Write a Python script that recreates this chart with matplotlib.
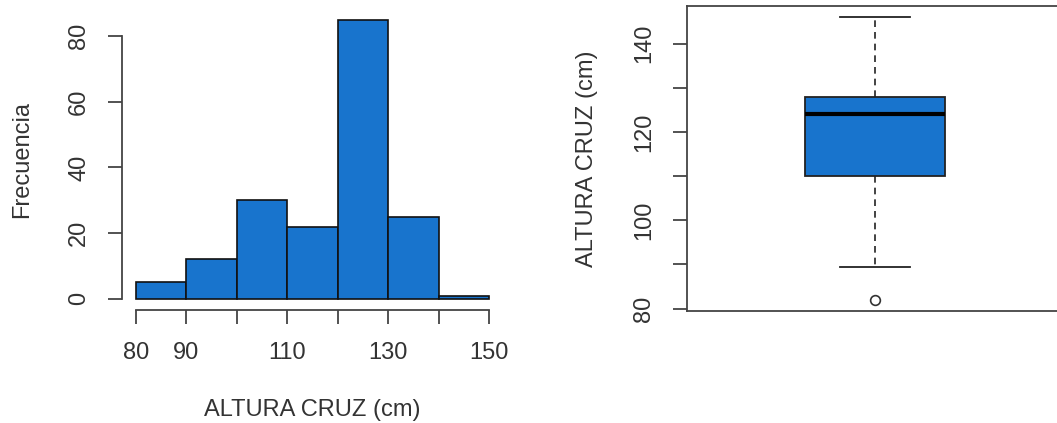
import numpy as np
import matplotlib
matplotlib.use("Agg")
import matplotlib.pyplot as plt

plt.rcParams['font.family'] = ['Liberation Sans', 'DejaVu Sans']

# histogram data
bin_edges = [80, 90, 100, 110, 120, 130, 140, 150]
counts = [5, 12, 30, 22, 85, 25, 1]
x_ticks = [80, 90, 100, 110, 120, 130, 140, 150]
x_labels = ['80', '90', '', '110', '', '130', '', '150']
y_ticks_hist = [0, 20, 40, 60, 80]

# boxplot summary
q1, med, q3 = 110, 124, 128
whislo, whishi = 89.5, 146
outliers = [82]
y_ticks_box = [80, 90, 100, 110, 120, 130, 140]
y_labels_box = ['80', '', '100', '', '120', '', '140']

blue = '#1874CD'
axcol = '#444444'
txtcol = '#333333'
fs = 17

fig = plt.figure(figsize=(10.57, 4.23), dpi=100)

# ---- histogram ----
ax1 = fig.add_axes([0.1154, 0.2671, 0.3605, 0.713])
left = np.array(bin_edges[:-1])
widths = np.diff(bin_edges)
ax1.bar(left, counts, width=widths, align='edge', color=blue,
        edgecolor='#111111', linewidth=1.2)
ax1.set_xlim(77.2, 152.8)
ax1.set_ylim(-3.4, 88.4)
for s in ['top', 'right']:
    ax1.spines[s].set_visible(False)
ax1.spines['left'].set_bounds(0, 80)
ax1.spines['bottom'].set_bounds(80, 150)
for s in ['left', 'bottom']:
    ax1.spines[s].set_color(axcol)
    ax1.spines[s].set_linewidth(1.3)
ax1.set_xticks(x_ticks)
ax1.set_xticklabels(x_labels)
ax1.set_yticks(y_ticks_hist)
ax1.tick_params(axis='both', length=10, width=1.3, color=axcol,
                labelcolor=txtcol, labelsize=fs)
ax1.tick_params(axis='x', pad=13)
ax1.tick_params(axis='y', pad=13)
for lab in ax1.get_yticklabels():
    lab.set_rotation(90)
    lab.set_va('center')
ax1.set_xlabel('ALTURA CRUZ (cm)', fontsize=fs, color=txtcol, va='center')
ax1.set_ylabel('Frecuencia', fontsize=fs, color=txtcol, va='center')
ax1.xaxis.set_label_coords(0.5, -0.332)
ax1.yaxis.set_label_coords(-0.262, 0.5)

# ---- boxplot ----
ax2 = fig.add_axes([0.650, 0.2648, 0.3557, 0.721])
stats = [dict(med=med, q1=q1, q3=q3, whislo=whislo, whishi=whishi,
              fliers=outliers)]
ax2.bxp(stats, positions=[1], widths=0.37, patch_artist=True,
        boxprops=dict(facecolor=blue, edgecolor='#222222', linewidth=1.3),
        medianprops=dict(color='black', linewidth=3),
        whiskerprops=dict(color='#222222', linestyle=(0, (4, 3)), linewidth=1.2),
        capprops=dict(color='#222222', linewidth=1.3),
        capwidths=0.185,
        flierprops=dict(marker='o', markerfacecolor='none',
                        markeredgecolor='#333333', markersize=7,
                        markeredgewidth=1.2))
ax2.set_xlim(0.5, 1.5)
ax2.set_ylim(79.44, 148.56)
ax2.set_xticks([])
ax2.set_yticks(y_ticks_box)
ax2.set_yticklabels(y_labels_box)
for s in ax2.spines.values():
    s.set_color(axcol)
    s.set_linewidth(1.3)
ax2.tick_params(axis='y', length=10, width=1.3, color=axcol,
                labelcolor=txtcol, labelsize=fs, pad=13)
for lab in ax2.get_yticklabels():
    lab.set_rotation(90)
    lab.set_va('center')
ax2.set_ylabel('ALTURA CRUZ (cm)', fontsize=fs, color=txtcol, va='center')
ax2.yaxis.set_label_coords(-0.266, 0.5)

fig.savefig('out.png', dpi=100)
